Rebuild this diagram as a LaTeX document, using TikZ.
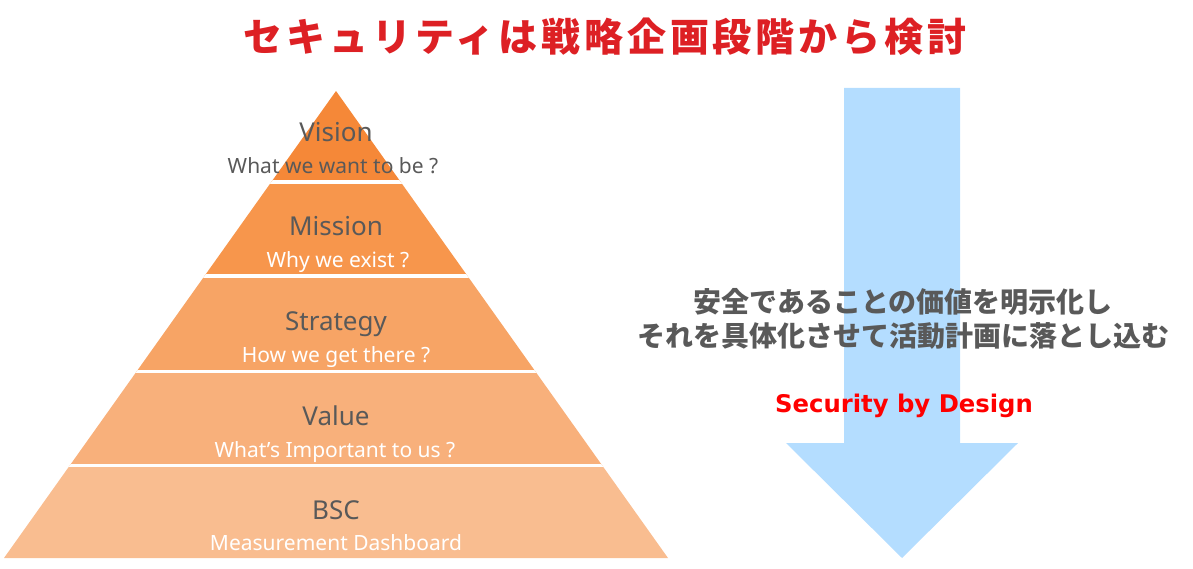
\documentclass[tikz,border=0pt]{standalone}
\usepackage{fontspec}
\setmainfont{Noto Sans}
\newfontfamily\jpfont{Noto Sans CJK JP}
\newfontfamily\jptitlefont[LetterSpace=10]{Noto Sans CJK JP}
\newfontfamily\sbdfont{DejaVu Sans}
\definecolor{tierA}{RGB}{245,136,56}
\definecolor{tierB}{RGB}{247,150,76}
\definecolor{tierC}{RGB}{247,164,101}
\definecolor{tierD}{RGB}{248,176,123}
\definecolor{tierE}{RGB}{249,189,144}
\definecolor{textgray}{RGB}{89,89,89}
\definecolor{titlered}{RGB}{221,32,36}
\definecolor{arrowblue}{RGB}{180,221,255}
\tikzset{
  tierhead/.style={anchor=base, inner sep=0pt, text=textgray,
    font=\fontsize{26}{31}\selectfont},
  tierquest/.style={anchor=base, inner sep=0pt, text=white,
    font=\fontsize{21}{25}\selectfont},
}
\begin{document}
\begin{tikzpicture}[x=1pt, y=-1pt]
\useasboundingbox (0,0) rectangle (1193,569);
% arrow
\fill[arrowblue] (844,88) -- (960,88) -- (960,443) -- (1018,443)
  -- (902,558) -- (786,443) -- (844,443) -- cycle;
% pyramid
\begin{scope}
\clip (336,91) -- (668,558) -- (4,558) -- cycle;
\foreach \t/\b/\c in {91/182/tierA, 182/276/tierB, 276/371.5/tierC,
                      371.5/465.5/tierD, 465.5/560/tierE}
  \fill[\c] (0,\t) rectangle (700,\b);
\foreach \g in {182, 276, 371.5, 465.5}
  \draw[white, line width=3.5pt] (0,\g) -- (700,\g);
\end{scope}
\node[tierhead] (vision) at (336,142) {Vision};
\node[tierquest, text=textgray] (visionq) at (333,174) {What we want to be ?};
\node[tierhead] (mission) at (336,236) {Mission};
\node[tierquest] (missionq) at (338,268) {Why we exist ?};
\node[tierhead] (strategy) at (336,330) {Strategy};
\node[tierquest] (strategyq) at (336,362) {How we get there ?};
\node[tierhead] (value) at (336,425) {Value};
\node[tierquest] (valueq) at (335,457) {What’s Important to us ?};
\node[tierhead] (bsc) at (336,519) {BSC};
\node[tierquest] (bscq) at (336,550) {Measurement Dashboard};
% texts
\node[inner sep=0pt, text=titlered, font=\jptitlefont\bfseries\fontsize{39}{45}\selectfont]
  (title) at (605,37) {セキュリティは戦略企画段階から検討};
\node[inner sep=0pt, align=center, text=textgray,
  font=\jpfont\bfseries\fontsize{28}{34.3}\selectfont]
  (message) at (903,319) {安全であることの価値を明示化し\\それを具体化させて活動計画に落とし込む};
\node[anchor=base, inner sep=0pt, text=red, font=\sbdfont\bfseries\fontsize{24.3}{29}\selectfont]
  (sbd) at (904,412) {Security by Design};
\end{tikzpicture}
\end{document}
